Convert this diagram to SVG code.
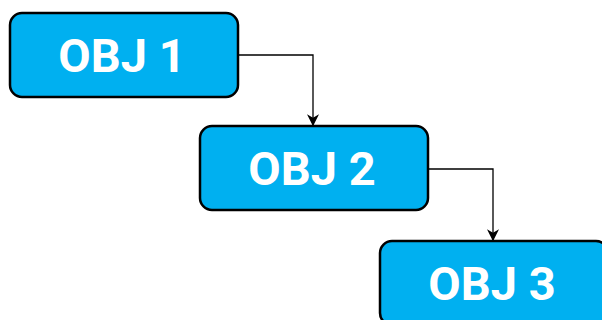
<svg xmlns="http://www.w3.org/2000/svg" width="602" height="320" viewBox="0 0 602 320">
<defs>
<style>
.box{fill:#00b0f0;stroke:#000;stroke-width:2.5}
.lbl{font-family:Roboto,"Liberation Sans",sans-serif;font-weight:bold;font-size:47px;fill:#fff;text-anchor:middle}
.conn{fill:none;stroke:#000;stroke-width:1.3}
</style>
<marker id="arr" viewBox="0 0 10 10" refX="9" refY="5" markerWidth="13" markerHeight="12" markerUnits="userSpaceOnUse" orient="auto">
<path d="M0,0 L10,5 L0,10 L3,5 Z" fill="#000"/>
</marker>
</defs>
<rect width="602" height="320" fill="#fff"/>
<g id="connectors">
<path class="conn" d="M238,55 H313 V125" marker-end="url(#arr)"/>
<path class="conn" d="M428,169 H493 V240" marker-end="url(#arr)"/>
</g>
<g id="obj1">
<rect class="box" x="10" y="13" width="228" height="84" rx="12"/>
<text class="lbl" x="122" y="72">OBJ 1</text>
</g>
<g id="obj2">
<rect class="box" x="200" y="126" width="228" height="84" rx="12"/>
<text class="lbl" x="312" y="185">OBJ 2</text>
</g>
<g id="obj3">
<rect class="box" x="380" y="241" width="228" height="84" rx="12"/>
<text class="lbl" x="492" y="300">OBJ 3</text>
</g>
</svg>
